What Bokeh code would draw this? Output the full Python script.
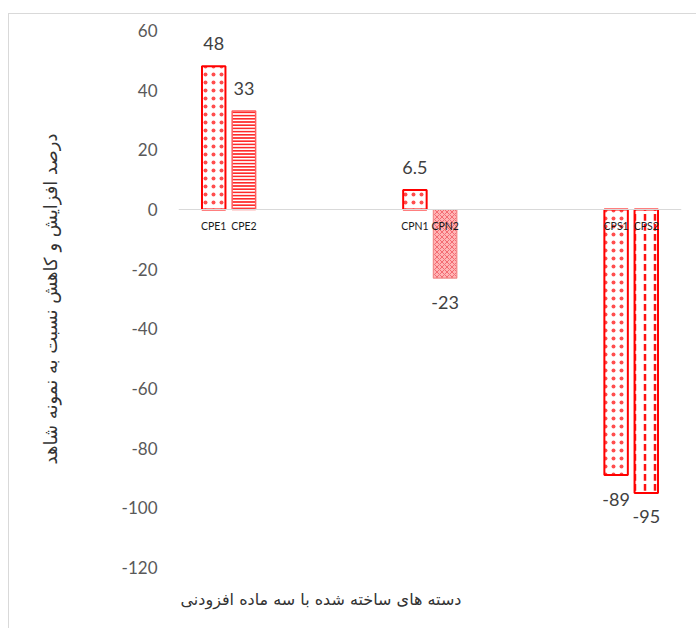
import numpy as np
from bokeh.plotting import figure
from bokeh.models import (Range1d, FixedTicker, Span, Title, ColumnDataSource,
                          PrintfTickFormatter)
from bokeh.core.properties import value
from bokeh.embed import file_html
from bokeh.resources import INLINE

# ---- data ----
groups = ["CPE", "CPN", "CPS"]
series_names = ["CPE1", "CPE2", "CPN1", "CPN2", "CPS1", "CPS2"]
series_group = [0, 0, 1, 1, 2, 2]
series_slot = [0, 1, 0, 1, 0, 1]
values = [48, 33, 6.5, -23, -89, -95]
value_labels = ["48", "33", "6.5", "-23", "-89", "-95"]
y_ticks = [60, 40, 20, 0, -20, -40, -60, -80, -100, -120]
y_title = "درصد افزایش و کاهش نسبت به نمونه شاهد"
x_title = "دسته های ساخته شده با سه ماده افزودنی"

# ---- layout helpers (style, not data) ----
group_shift = [-0.2, 0.0, 0.2]
slot_shift = [-0.09, 0.09]
bar_w = 0.14

xs = [g + 0.5 + group_shift[g] + slot_shift[s] for g, s in zip(series_group, series_slot)]

p = figure(width=688, height=615, output_backend="svg", toolbar_location=None,
           x_range=Range1d(0, 3), y_range=Range1d(-120, 60),
           min_border_left=169, min_border_right=16, min_border_top=16, min_border_bottom=62)
p.margin = (13, 0, 0, 8)
p.styles = {"border-left": "1px solid #d9d9d9", "border-top": "1px solid #d9d9d9"}
p.outline_line_color = None
p.xgrid.visible = False
p.ygrid.visible = False
p.xaxis.visible = False

ax = p.yaxis[0]
ax.ticker = FixedTicker(ticks=y_ticks)
ax.formatter = PrintfTickFormatter(format="%d")
ax.major_tick_line_color = None
ax.minor_tick_line_color = None
ax.axis_line_color = None
ax.major_label_standoff = 15
ax.major_label_text_font = "Lato"
ax.major_label_text_font_size = "17px"
ax.major_label_text_color = "#595959"
ax.axis_label = y_title
ax.axis_label_text_font = "DejaVu Sans"
ax.axis_label_text_font_size = "18px"
ax.axis_label_text_font_style = "normal"
ax.axis_label_text_color = "#333333"
ax.axis_label_standoff = 58

p.add_layout(Span(location=0, dimension="width", line_color="#d9d9d9", line_width=1.2))

dot_style = dict(fill_color="white", line_color="#ff0000", line_width=2,
                 hatch_pattern="dot", hatch_color="#ff2020", hatch_scale=8,
                 hatch_weight=1, hatch_alpha=0.8)

styles = [
    dot_style,
    dict(fill_color="white", line_color="#ff6060", line_width=1.5,
         hatch_pattern="horizontal_line", hatch_color="#ff2a2a", hatch_scale=3.2, hatch_weight=2.0),
    dot_style,
    dict(fill_color="#ffb4b4", line_color="#f28a8a", line_width=1.2,
         hatch_pattern="diagonal_cross", hatch_color="#f26a72", hatch_scale=5, hatch_weight=1),
    dot_style,
    dict(fill_color="white", line_color="#ff0000", line_width=2,
         hatch_pattern="vertical_dash", hatch_color="#ff1010", hatch_scale=10, hatch_weight=2.5),
]

for i in range(len(series_names)):
    p.vbar(x=[xs[i]], top=[values[i]], bottom=0, width=bar_w, **styles[i])

vals = np.array(values, dtype=float)
src = ColumnDataSource(dict(x=xs, y=values, lab=value_labels,
                            off=np.where(vals >= 0, -23, 24).tolist(),
                            name=series_names, zero=[0] * len(values)))

p.text(x="x", y="y", text="lab", y_offset="off", source=src,
       text_align="center", text_baseline="middle",
       text_font=value("Lato"), text_font_size="18px", text_color="#404040")

p.text(x="x", y="zero", text="name", y_offset=16, source=src,
       text_align="center", text_baseline="middle",
       text_font=value("Lato"), text_font_size="10.5px", text_color="#1a1a1a")

t = Title(text=x_title, align="left", offset=2, standoff=40,
          text_font="DejaVu Sans", text_font_size="16px", text_font_style="normal",
          text_color="#333333")
p.add_layout(t, "below")

open("out.html", "w").write(file_html(p, INLINE))
